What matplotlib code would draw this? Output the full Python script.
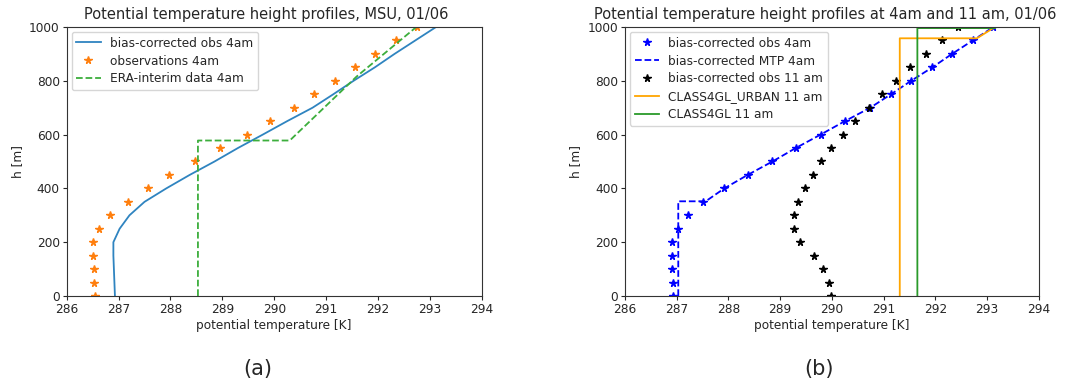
import matplotlib
matplotlib.use("Agg")
import matplotlib.pyplot as plt

# Heights of the profile levels [m]
heights = [0, 50, 100, 150, 200, 250, 300, 350, 400, 450, 500,
           550, 600, 650, 700, 750, 800, 850, 900, 950, 1000]

# Raw observations, 4am [K]
obs_4am = [286.55, 286.53, 286.53, 286.50, 286.50, 286.63, 286.84, 287.18,
           287.56, 287.98, 288.47, 288.96, 289.47, 289.91, 290.39, 290.77,
           291.17, 291.55, 291.95, 292.35, 292.75]

# Bias-corrected observations, 4am [K]
bc_obs_4am = [286.93, 286.92, 286.91, 286.90, 286.90, 287.02, 287.21, 287.50,
              287.92, 288.37, 288.85, 289.30, 289.78, 290.25, 290.74, 291.14,
              291.53, 291.94, 292.32, 292.72, 293.12]

# Bias-corrected observations, 11am [K]
bc_obs_11am = [289.99, 289.94, 289.82, 289.65, 289.39, 289.27, 289.27, 289.34,
               289.47, 289.64, 289.78, 289.99, 290.21, 290.44, 290.72, 290.96,
               291.24, 291.51, 291.81, 292.12, 292.43]

# ERA-interim profile, 4am
era_h = [0, 578, 578, 816, 1000]
era_t = [288.53, 288.53, 290.30, 291.59, 292.74]

# Bias-corrected MTP profile, 4am
mtp_h = [0, 352, 352, 400, 450, 500, 550, 600, 650, 700, 750, 800, 850, 900, 950, 1000]
mtp_t = [287.03, 287.03, 287.56, 287.92, 288.37, 288.85, 289.30, 289.78, 290.25,
         290.74, 291.14, 291.53, 291.94, 292.32, 292.72, 293.12]

# CLASS4GL model runs, 11am
urban_h = [0, 958, 958, 1000, 1050]
urban_t = [291.31, 291.31, 292.80, 293.15, 293.50]
class_h = [0, 996, 996, 1050]
class_t = [291.65, 291.65, 293.15, 293.50]

xlim = (286, 294)
ylim = (0, 1000)

fs = 8.7
txt_col = '#262626'
plt.rcParams['font.family'] = ['DejaVu Sans']
plt.rcParams['font.size'] = fs
plt.rcParams['text.color'] = txt_col
plt.rcParams['axes.labelcolor'] = txt_col
plt.rcParams['xtick.color'] = txt_col
plt.rcParams['ytick.color'] = txt_col
plt.rcParams['axes.edgecolor'] = '#333333'

fig = plt.figure(figsize=(10.74, 3.83), dpi=100)
ax1 = fig.add_axes([0.0621, 0.2272, 0.3864, 0.7023])
ax2 = fig.add_axes([0.5819, 0.2272, 0.3855, 0.7023])

lw = 1.3
ms = 5.5

# Panel (a)
ax1.plot(bc_obs_4am, heights, color='#2f84c0', lw=lw, label='bias-corrected obs 4am')
ax1.plot(obs_4am, heights, '*', color='tab:orange', ms=ms, ls='none', label='observations 4am')
ax1.plot(era_t, era_h, '--', color='#3cae3c', lw=lw, label='ERA-interim data 4am')
ax1.set_title('Potential temperature height profiles, MSU, 01/06', fontsize=10.5, x=0.48)

# Panel (b)
ax2.plot(bc_obs_4am, heights, '*', color='blue', ms=ms, ls='none', label='bias-corrected obs 4am')
ax2.plot(mtp_t, mtp_h, '--', color='blue', lw=lw, label='bias-corrected MTP 4am')
ax2.plot(bc_obs_11am, heights, '*', color='black', ms=ms, ls='none', label='bias-corrected obs 11 am')
ax2.plot(urban_t, urban_h, color='orange', lw=lw, label='CLASS4GL_URBAN 11 am')
ax2.plot(class_t, class_h, color='#2a9a2a', lw=lw, label='CLASS4GL 11 am')
ax2.set_title('Potential temperature height profiles at 4am and 11 am, 01/06', fontsize=10.5, x=0.483)

for ax in (ax1, ax2):
    ax.set_xlim(*xlim)
    ax.set_ylim(*ylim)
    ax.set_xlabel('potential temperature [K]', fontsize=fs, labelpad=2)
    ax.set_ylabel('h [m]', fontsize=fs)
    ax.tick_params(labelsize=fs, length=3, pad=2)
    for s in ax.spines.values():
        s.set_linewidth(0.8)
    ax.legend(loc='upper left', fontsize=fs, handlelength=2.0,
              borderaxespad=0.4, labelspacing=0.4, framealpha=0.8)

fig.text(0.24, 0.037, '(a)', ha='center', va='center', fontsize=15)
fig.text(0.763, 0.037, '(b)', ha='center', va='center', fontsize=15)

fig.savefig('out.png', dpi=100)
